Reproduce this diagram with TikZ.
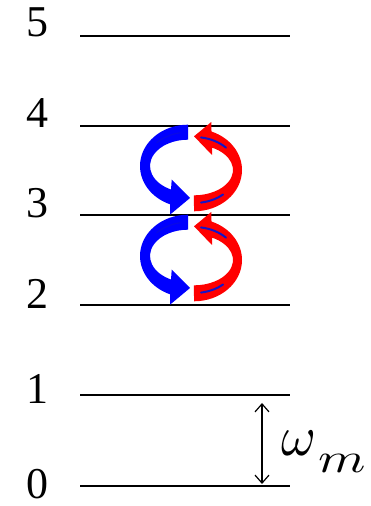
\documentclass[tikz,border=0pt]{standalone}
\usepackage{fontspec}
\setmainfont{Liberation Serif}
\usetikzlibrary{arrows.meta}
\definecolor{pblue}{RGB}{0,0,255}
\definecolor{pred}{RGB}{255,0,0}
\definecolor{hblue}{RGB}{20,20,200}
\tikzset{
  level/.style={line width=1.3pt},
  lab/.style={anchor=base,font=\fontsize{44}{44}\selectfont,inner sep=0pt},
  bluearr/.style={fill=pblue},
  redarr/.style={fill=pred},
  hilite/.style={hblue,line width=2pt,line cap=round},
  faint/.style={hblue,line width=1.2pt,opacity=0.45,line cap=round},
  dbl/.style={line width=1.2pt,{Straight Barb[length=8pt,width=14pt]}-{Straight Barb[length=8pt,width=14pt]}}
}
\begin{document}
\begin{tikzpicture}[x=1pt,y=1pt]
\useasboundingbox (0,0) rectangle (370,506);
% levels
\foreach \n/\y/\b in {5/470/469,4/380/378,3/291/288,2/201/197,1/111/102,0/20/8}{
  \coordinate (l\n a) at (80,\y);
  \coordinate (l\n b) at (290,\y);
  \draw[level] (l\n a) -- (l\n b);
  \node[lab] (n\n) at (37,\b) {\n};
}
% circulating arrows
\foreach \s/\nm in {0/u,-90/d}{
  \begin{scope}[yshift=\s]
    \coordinate (bc\nm) at (188,340);
    \coordinate (rc\nm) at (194,336);
    % blue curved arrow
    \fill[bluearr] (188,381.3)
      arc[start angle=90,end angle=248,x radius=48,y radius=41.3]
      -- (170,291.3) -- (190,308) -- (171.7,326.3) -- (171,316.5)
      arc[start angle=243.4,end angle=90,x radius=38,y radius=26.3] -- cycle;
    % red curved arrow
    \fill[redarr] (194,294.7)
      arc[start angle=-90,end angle=68.6,x radius=48,y radius=41.3]
      -- (211.3,384) -- (194,369.7) -- (212,351) -- (212,358.4)
      arc[start angle=62.5,end angle=-90,x radius=39,y radius=25.3] -- cycle;
    % highlights
    \draw[hilite] ([shift={(80.7:43.5 and 33)}]rc\nm)
      arc[start angle=80.7,end angle=42.6,x radius=43.5,y radius=33];
    \draw[hilite] ([shift={(-80.7:43.5 and 33)}]rc\nm)
      arc[start angle=-80.7,end angle=-48,x radius=43.5,y radius=33];
    \draw[faint] ([shift={(100.7:43 and 33.8)}]bc\nm)
      arc[start angle=100.7,end angle=136.7,x radius=43,y radius=33.8];
  \end{scope}
}
% omega_m spacing
\coordinate (wt) at (262,103);
\coordinate (wb) at (262,22);
\draw[dbl] (wt) -- (wb);
\node[anchor=base west,inner sep=0pt] (om) at (281,51)
  {\scalebox{5.3}[5.7]{$\omega$}\hspace{2pt}\raisebox{-18pt}{\scalebox{5.4}[4.2]{$m$}}};
\end{tikzpicture}
\end{document}
